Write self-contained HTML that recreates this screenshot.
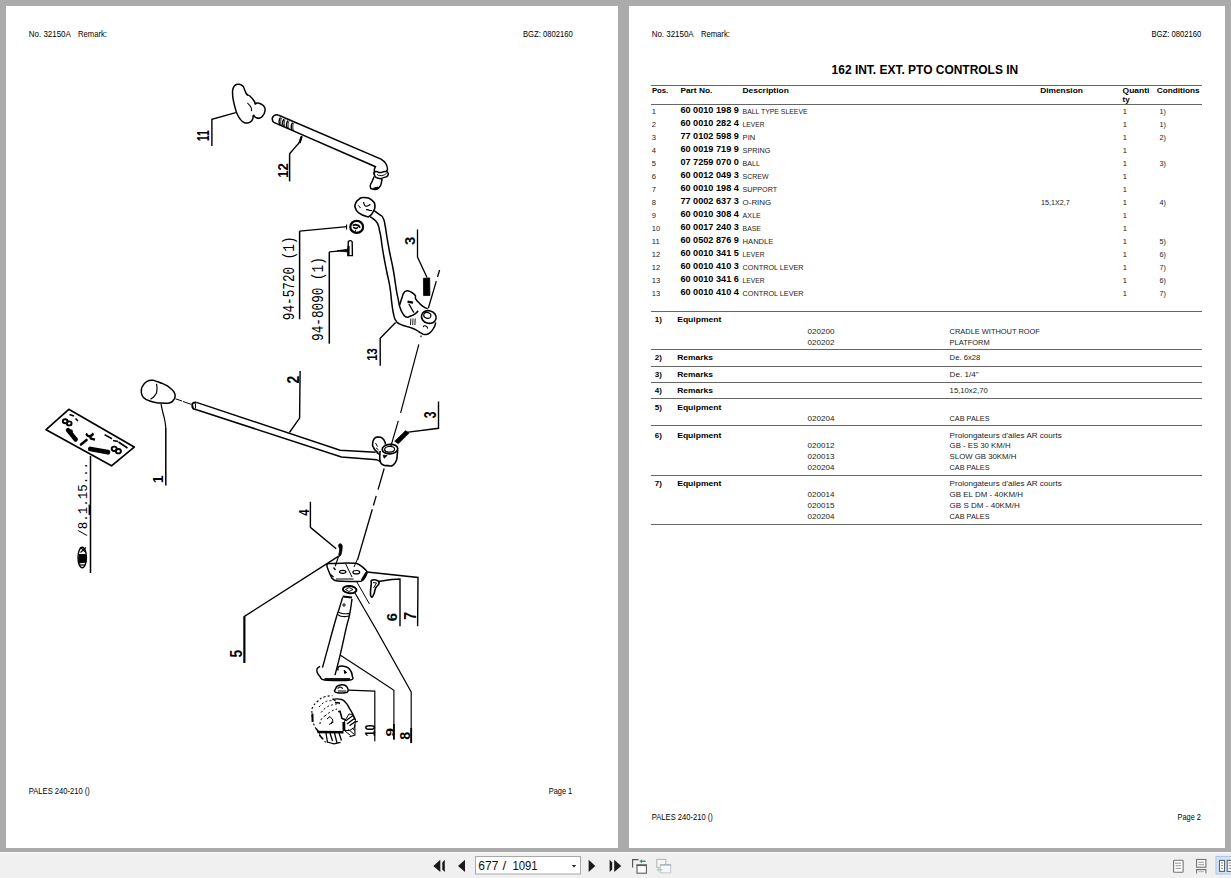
<!DOCTYPE html>
<html><head><meta charset="utf-8"><title>PALES 240-210 - 162 INT. EXT. PTO CONTROLS IN</title>
<style>
html,body{margin:0;padding:0;}
body{width:1231px;height:878px;overflow:hidden;background:#ababab;position:relative;font-family:"Liberation Sans",sans-serif;}
.page{position:absolute;background:#fff;}
#p1{left:6px;top:6px;width:612px;height:842px;}
#p2{left:629px;top:6px;width:596px;height:842px;}
#tb{position:absolute;left:0;top:852px;width:1231px;height:26px;background:#f0f0f0;border-top:1px solid #fbfbfb;box-sizing:border-box;}
svg{position:absolute;left:0;top:0;}
</style></head>
<body>
<div class="page" id="p1"></div>
<div class="page" id="p2"></div>
<div id="tb"></div>
<svg width="1231" height="878" viewBox="0 0 1231 878" font-family="Liberation Sans, sans-serif" font-size="8" fill="#000">
<g stroke="#666" stroke-width="1" shape-rendering="crispEdges"><line x1="651" y1="85.5" x2="1202" y2="85.5"/><line x1="651" y1="104.5" x2="1202" y2="104.5"/><line x1="651" y1="311.5" x2="1202" y2="311.5"/><line x1="651" y1="349.5" x2="1202" y2="349.5"/><line x1="651" y1="366" x2="1202" y2="366"/><line x1="651" y1="382.5" x2="1202" y2="382.5"/><line x1="651" y1="398.5" x2="1202" y2="398.5"/><line x1="651" y1="425.5" x2="1202" y2="425.5"/><line x1="651" y1="475" x2="1202" y2="475"/><line x1="651" y1="524.5" x2="1202" y2="524.5"/></g>
<g><text x="28.8" y="37" font-size="8.4" textLength="42" lengthAdjust="spacingAndGlyphs">No. 32150A</text><text x="78" y="37" font-size="8.4" textLength="29" lengthAdjust="spacingAndGlyphs">Remark:</text><text x="522.9" y="37" font-size="8.4" textLength="49.8" lengthAdjust="spacingAndGlyphs">BGZ: 0802160</text><text x="28.8" y="793.8" font-size="8.4" textLength="61.1" lengthAdjust="spacingAndGlyphs">PALES 240-210 ()</text><text x="548.7" y="794" font-size="8.4" textLength="23.5" lengthAdjust="spacingAndGlyphs">Page 1</text><text x="651.7" y="37" font-size="8.4" textLength="42" lengthAdjust="spacingAndGlyphs">No. 32150A</text><text x="700.9" y="37" font-size="8.4" textLength="29" lengthAdjust="spacingAndGlyphs">Remark:</text><text x="1151.5" y="37" font-size="8.4" textLength="49.8" lengthAdjust="spacingAndGlyphs">BGZ: 0802160</text><text x="651.8" y="820" font-size="8.4" textLength="61.1" lengthAdjust="spacingAndGlyphs">PALES 240-210 ()</text><text x="1177.5" y="820" font-size="8.4" textLength="23.5" lengthAdjust="spacingAndGlyphs">Page 2</text><text x="831.6" y="73.8" font-size="12" font-weight="bold" textLength="186.6" lengthAdjust="spacingAndGlyphs">162 INT. EXT. PTO CONTROLS IN</text><text x="651.9" y="92.8" font-weight="bold" textLength="16.4" lengthAdjust="spacingAndGlyphs">Pos.</text><text x="680.4" y="92.8" font-weight="bold" textLength="32" lengthAdjust="spacingAndGlyphs">Part No.</text><text x="742.5" y="92.8" font-weight="bold" textLength="46.3" lengthAdjust="spacingAndGlyphs">Description</text><text x="1040.2" y="92.8" font-weight="bold" textLength="42.7" lengthAdjust="spacingAndGlyphs">Dimension</text><text x="1122.6" y="92.8" font-weight="bold" textLength="26.8" lengthAdjust="spacingAndGlyphs">Quanti</text><text x="1122.6" y="102.3" font-weight="bold">ty</text><text x="1156.7" y="92.8" font-weight="bold" textLength="43" lengthAdjust="spacingAndGlyphs">Conditions</text><text transform="translate(651.8,113.9) scale(0.95,1)" fill="#222">1</text><text x="680.4" y="113.3" font-size="8.5" font-weight="bold" textLength="58.5" lengthAdjust="spacingAndGlyphs">60 0010 198 9</text><text x="742.6" y="113.9" font-size="7.8" textLength="65.0" lengthAdjust="spacingAndGlyphs" fill="#222">BALL TYPE SLEEVE</text><text transform="translate(1122.8,113.9) scale(0.95,1)" fill="#222">1</text><text transform="translate(1159.4,113.9) scale(0.9,1)" fill="#222">1)</text><text transform="translate(651.8,126.9) scale(0.95,1)" fill="#222">2</text><text x="680.4" y="126.3" font-size="8.5" font-weight="bold" textLength="58.5" lengthAdjust="spacingAndGlyphs">60 0010 282 4</text><text x="742.6" y="126.9" font-size="7.8" textLength="21.9" lengthAdjust="spacingAndGlyphs" fill="#222">LEVER</text><text transform="translate(1122.8,126.9) scale(0.95,1)" fill="#222">1</text><text transform="translate(1159.4,126.9) scale(0.9,1)" fill="#222">1)</text><text transform="translate(651.8,139.9) scale(0.95,1)" fill="#222">3</text><text x="680.4" y="139.3" font-size="8.5" font-weight="bold" textLength="58.5" lengthAdjust="spacingAndGlyphs">77 0102 598 9</text><text x="742.6" y="139.9" font-size="7.8" textLength="12.6" lengthAdjust="spacingAndGlyphs" fill="#222">PIN</text><text transform="translate(1122.8,139.9) scale(0.95,1)" fill="#222">1</text><text transform="translate(1159.4,139.9) scale(0.9,1)" fill="#222">2)</text><text transform="translate(651.8,152.9) scale(0.95,1)" fill="#222">4</text><text x="680.4" y="152.3" font-size="8.5" font-weight="bold" textLength="58.5" lengthAdjust="spacingAndGlyphs">60 0019 719 9</text><text x="742.6" y="152.9" font-size="7.8" textLength="27.7" lengthAdjust="spacingAndGlyphs" fill="#222">SPRING</text><text transform="translate(1122.8,152.9) scale(0.95,1)" fill="#222">1</text><text transform="translate(651.8,165.9) scale(0.95,1)" fill="#222">5</text><text x="680.4" y="165.3" font-size="8.5" font-weight="bold" textLength="58.5" lengthAdjust="spacingAndGlyphs">07 7259 070 0</text><text x="742.6" y="165.9" font-size="7.8" textLength="17.4" lengthAdjust="spacingAndGlyphs" fill="#222">BALL</text><text transform="translate(1122.8,165.9) scale(0.95,1)" fill="#222">1</text><text transform="translate(1159.4,165.9) scale(0.9,1)" fill="#222">3)</text><text transform="translate(651.8,178.9) scale(0.95,1)" fill="#222">6</text><text x="680.4" y="178.3" font-size="8.5" font-weight="bold" textLength="58.5" lengthAdjust="spacingAndGlyphs">60 0012 049 3</text><text x="742.6" y="178.9" font-size="7.8" textLength="26.0" lengthAdjust="spacingAndGlyphs" fill="#222">SCREW</text><text transform="translate(1122.8,178.9) scale(0.95,1)" fill="#222">1</text><text transform="translate(651.8,191.9) scale(0.95,1)" fill="#222">7</text><text x="680.4" y="191.3" font-size="8.5" font-weight="bold" textLength="58.5" lengthAdjust="spacingAndGlyphs">60 0010 198 4</text><text x="742.6" y="191.9" font-size="7.8" textLength="34.5" lengthAdjust="spacingAndGlyphs" fill="#222">SUPPORT</text><text transform="translate(1122.8,191.9) scale(0.95,1)" fill="#222">1</text><text transform="translate(651.8,204.9) scale(0.95,1)" fill="#222">8</text><text x="680.4" y="204.3" font-size="8.5" font-weight="bold" textLength="58.5" lengthAdjust="spacingAndGlyphs">77 0002 637 3</text><text x="742.6" y="204.9" font-size="7.8" textLength="28.599999999999998" lengthAdjust="spacingAndGlyphs" fill="#222">O-RING</text><text transform="translate(1041,204.9) scale(0.9,1)" fill="#222">15,1X2,7</text><text transform="translate(1122.8,204.9) scale(0.95,1)" fill="#222">1</text><text transform="translate(1159.4,204.9) scale(0.9,1)" fill="#222">4)</text><text transform="translate(651.8,217.9) scale(0.95,1)" fill="#222">9</text><text x="680.4" y="217.3" font-size="8.5" font-weight="bold" textLength="58.5" lengthAdjust="spacingAndGlyphs">60 0010 308 4</text><text x="742.6" y="217.9" font-size="7.8" textLength="18.299999999999997" lengthAdjust="spacingAndGlyphs" fill="#222">AXLE</text><text transform="translate(1122.8,217.9) scale(0.95,1)" fill="#222">1</text><text transform="translate(651.8,230.9) scale(0.95,1)" fill="#222">10</text><text x="680.4" y="230.3" font-size="8.5" font-weight="bold" textLength="58.5" lengthAdjust="spacingAndGlyphs">60 0017 240 3</text><text x="742.6" y="230.9" font-size="7.8" textLength="18.299999999999997" lengthAdjust="spacingAndGlyphs" fill="#222">BASE</text><text transform="translate(1122.8,230.9) scale(0.95,1)" fill="#222">1</text><text transform="translate(651.8,243.9) scale(0.95,1)" fill="#222">11</text><text x="680.4" y="243.3" font-size="8.5" font-weight="bold" textLength="58.5" lengthAdjust="spacingAndGlyphs">60 0502 876 9</text><text x="742.6" y="243.9" font-size="7.8" textLength="30.799999999999997" lengthAdjust="spacingAndGlyphs" fill="#222">HANDLE</text><text transform="translate(1122.8,243.9) scale(0.95,1)" fill="#222">1</text><text transform="translate(1159.4,243.9) scale(0.9,1)" fill="#222">5)</text><text transform="translate(651.8,256.9) scale(0.95,1)" fill="#222">12</text><text x="680.4" y="256.3" font-size="8.5" font-weight="bold" textLength="58.5" lengthAdjust="spacingAndGlyphs">60 0010 341 5</text><text x="742.6" y="256.9" font-size="7.8" textLength="21.9" lengthAdjust="spacingAndGlyphs" fill="#222">LEVER</text><text transform="translate(1122.8,256.9) scale(0.95,1)" fill="#222">1</text><text transform="translate(1159.4,256.9) scale(0.9,1)" fill="#222">6)</text><text transform="translate(651.8,269.9) scale(0.95,1)" fill="#222">12</text><text x="680.4" y="269.3" font-size="8.5" font-weight="bold" textLength="58.5" lengthAdjust="spacingAndGlyphs">60 0010 410 3</text><text x="742.6" y="269.9" font-size="7.8" textLength="61.0" lengthAdjust="spacingAndGlyphs" fill="#222">CONTROL LEVER</text><text transform="translate(1122.8,269.9) scale(0.95,1)" fill="#222">1</text><text transform="translate(1159.4,269.9) scale(0.9,1)" fill="#222">7)</text><text transform="translate(651.8,282.9) scale(0.95,1)" fill="#222">13</text><text x="680.4" y="282.3" font-size="8.5" font-weight="bold" textLength="58.5" lengthAdjust="spacingAndGlyphs">60 0010 341 6</text><text x="742.6" y="282.9" font-size="7.8" textLength="21.9" lengthAdjust="spacingAndGlyphs" fill="#222">LEVER</text><text transform="translate(1122.8,282.9) scale(0.95,1)" fill="#222">1</text><text transform="translate(1159.4,282.9) scale(0.9,1)" fill="#222">6)</text><text transform="translate(651.8,295.9) scale(0.95,1)" fill="#222">13</text><text x="680.4" y="295.3" font-size="8.5" font-weight="bold" textLength="58.5" lengthAdjust="spacingAndGlyphs">60 0010 410 4</text><text x="742.6" y="295.9" font-size="7.8" textLength="61.0" lengthAdjust="spacingAndGlyphs" fill="#222">CONTROL LEVER</text><text transform="translate(1122.8,295.9) scale(0.95,1)" fill="#222">1</text><text transform="translate(1159.4,295.9) scale(0.9,1)" fill="#222">7)</text><text x="654.7" y="321.9" font-weight="bold">1)</text><text x="677.2" y="321.9" font-weight="bold" textLength="44.2" lengthAdjust="spacingAndGlyphs">Equipment</text><text x="807.5" y="333.8" textLength="26.9" lengthAdjust="spacingAndGlyphs" fill="#222">020200</text><text x="949.6" y="333.8" textLength="90.30000000000001" lengthAdjust="spacingAndGlyphs" fill="#222">CRADLE WITHOUT ROOF</text><text x="807.5" y="344.7" textLength="26.9" lengthAdjust="spacingAndGlyphs" fill="#222">020202</text><text x="949.6" y="344.7" textLength="40.1" lengthAdjust="spacingAndGlyphs" fill="#222">PLATFORM</text><text x="654.7" y="359.8" font-weight="bold">2)</text><text x="677.2" y="359.8" font-weight="bold" textLength="35.7" lengthAdjust="spacingAndGlyphs">Remarks</text><text x="949.6" y="359.8" textLength="30.7" lengthAdjust="spacingAndGlyphs" fill="#222">De. 6x28</text><text x="654.7" y="376.7" font-weight="bold">3)</text><text x="677.2" y="376.7" font-weight="bold" textLength="35.7" lengthAdjust="spacingAndGlyphs">Remarks</text><text x="949.6" y="376.7" textLength="29.0" lengthAdjust="spacingAndGlyphs" fill="#222">De. 1/4"</text><text x="654.7" y="392.6" font-weight="bold">4)</text><text x="677.2" y="392.6" font-weight="bold" textLength="35.7" lengthAdjust="spacingAndGlyphs">Remarks</text><text x="949.6" y="392.6" textLength="38.1" lengthAdjust="spacingAndGlyphs" fill="#222">15,10x2,70</text><text x="654.7" y="410.4" font-weight="bold">5)</text><text x="677.2" y="410.4" font-weight="bold" textLength="44.2" lengthAdjust="spacingAndGlyphs">Equipment</text><text x="807.5" y="421.0" textLength="26.9" lengthAdjust="spacingAndGlyphs" fill="#222">020204</text><text x="949.6" y="421.0" textLength="39.9" lengthAdjust="spacingAndGlyphs" fill="#222">CAB PALES</text><text x="654.7" y="437.6" font-weight="bold">6)</text><text x="677.2" y="437.6" font-weight="bold" textLength="44.2" lengthAdjust="spacingAndGlyphs">Equipment</text><text x="949.6" y="437.6" textLength="112.2" lengthAdjust="spacingAndGlyphs" fill="#222">Prolongateurs d'ailes AR courts</text><text x="807.5" y="447.8" textLength="26.9" lengthAdjust="spacingAndGlyphs" fill="#222">020012</text><text x="949.6" y="447.8" textLength="60.9" lengthAdjust="spacingAndGlyphs" fill="#222">GB - ES 30 KM/H</text><text x="807.5" y="458.7" textLength="26.9" lengthAdjust="spacingAndGlyphs" fill="#222">020013</text><text x="949.6" y="458.7" textLength="66.80000000000001" lengthAdjust="spacingAndGlyphs" fill="#222">SLOW GB 30KM/H</text><text x="807.5" y="469.7" textLength="26.9" lengthAdjust="spacingAndGlyphs" fill="#222">020204</text><text x="949.6" y="469.7" textLength="39.9" lengthAdjust="spacingAndGlyphs" fill="#222">CAB PALES</text><text x="654.7" y="486.3" font-weight="bold">7)</text><text x="677.2" y="486.3" font-weight="bold" textLength="44.2" lengthAdjust="spacingAndGlyphs">Equipment</text><text x="949.6" y="486.3" textLength="112.2" lengthAdjust="spacingAndGlyphs" fill="#222">Prolongateurs d'ailes AR courts</text><text x="807.5" y="497.0" textLength="26.9" lengthAdjust="spacingAndGlyphs" fill="#222">020014</text><text x="949.6" y="497.0" textLength="73.4" lengthAdjust="spacingAndGlyphs" fill="#222">GB EL DM - 40KM/H</text><text x="807.5" y="507.9" textLength="26.9" lengthAdjust="spacingAndGlyphs" fill="#222">020015</text><text x="949.6" y="507.9" textLength="70.10000000000001" lengthAdjust="spacingAndGlyphs" fill="#222">GB S DM - 40KM/H</text><text x="807.5" y="518.8" textLength="26.9" lengthAdjust="spacingAndGlyphs" fill="#222">020204</text><text x="949.6" y="518.8" textLength="39.9" lengthAdjust="spacingAndGlyphs" fill="#222">CAB PALES</text></g>
<g id="drawing"><path d="M238.5,84.3 C240.5,84.5 240.9,84.4 242.6,85.9 C244.3,87.4 243.6,87.8 244.7,90 C245.8,92.2 245.3,92.4 246.7,94.1 C248.1,95.8 248.1,94.4 250.1,96.2 C252.1,98 252.8,98.9 254.2,101 C255.6,103.1 254.5,103.5 255.2,104 C255.9,104.5 255.5,103 257,103 C258.5,103 259,102.9 261,104 C263,105.1 263.5,105.2 264.5,107.1 C265.5,109 265.3,109 264.9,111.2 C264.5,113.4 264.5,113.5 263.1,115.3 C261.7,117.1 261.7,117.4 259.7,118 C257.7,118.6 257.3,118.1 255.6,117.4 C253.9,116.7 254.2,114.8 253.4,115.3 C252.6,115.8 253.5,117.6 252.6,119.4 C251.7,121.2 251.7,121.2 250.1,122.2 C248.5,123.2 248.5,123.1 246.7,123.1 C244.9,123.1 245.1,123.4 243.3,122.2 C241.5,121 241.5,120.9 239.9,118.7 C238.3,116.5 238.5,116.9 237.2,114 C235.9,111.1 236.1,111.3 235.1,107.8 C234.1,104.3 234.2,104.7 233.5,101 C232.8,97.3 232.7,97.4 232.6,94.1 C232.5,90.8 232.3,91 233,88.7 C233.7,86.4 233.6,86.5 235.1,85.3 C236.6,84.1 236.5,84.1 238.5,84.3 Z" fill="none" stroke="#000" stroke-width="1.5"/>
<path d="M247.4,103 C248.5,104.4 249.4,104.4 250.8,107.1 C252.2,109.8 251.3,109.8 251.5,111.2" fill="none" stroke="#000" stroke-width="1.1"/>
<path d="M246,93.5 L247.6,95.8" fill="none" stroke="#000" stroke-width="1.1"/>
<polyline points="235.8,112.6 211.9,119.4 211.9,146.1" fill="none" stroke="#000" stroke-width="1.4"/>
<text transform="translate(209.10,141.23) rotate(-90) scale(1.052,1.580)" font-family="Liberation Sans" font-weight="bold" font-size="10" fill="#000" xml:space="preserve">11</text>
<path d="M278.7,115.3 L381,159.1 C385,161.5 387.5,165 387.5,169.5 L386.5,171.6" fill="none" stroke="#000" stroke-width="1.5"/>
<path d="M273.2,122.1 L375.5,166.7 L374.4,169 L374.3,175" fill="none" stroke="#000" stroke-width="1.5"/>
<path d="M278.7,115.3 C277.6,115.2 277.3,114.2 275.3,114.9 C273.3,115.6 273.5,115.8 272.6,117.5 C271.7,119.2 272.3,118.5 272.5,120 C272.7,121.5 273,121.4 273.2,122.1" fill="none" stroke="#000" stroke-width="1.6"/>
<path d="M280.5,117.5 C280,118.8 279.2,118.8 279.1,121.4 C279,124.1 279.9,124.2 280.3,125.5" fill="none" stroke="#000" stroke-width="1.4"/>
<path d="M281.7,118.1 C281.4,119.3 280.7,119.1 280.7,121.7 C280.7,124.3 281.4,124.5 281.7,125.9" fill="none" stroke="#000" stroke-width="0.9"/>
<path d="M284,119 C283.5,120.3 282.7,120.3 282.6,122.9 C282.5,125.6 283.4,125.7 283.8,127" fill="none" stroke="#000" stroke-width="1.4"/>
<path d="M285.2,119.6 C284.9,120.8 284.2,120.6 284.2,123.2 C284.2,125.9 284.9,126 285.2,127.4" fill="none" stroke="#000" stroke-width="0.9"/>
<path d="M287.9,120.6 C287.4,121.9 286.6,121.9 286.5,124.6 C286.4,127.3 287.3,127.4 287.7,128.7" fill="none" stroke="#000" stroke-width="1.4"/>
<path d="M289.1,121.2 C288.8,122.4 288.1,122.3 288.1,124.9 C288.1,127.6 288.8,127.7 289.1,129.1" fill="none" stroke="#000" stroke-width="0.9"/>
<path d="M292.6,122.6 C292.1,123.9 291.3,123.9 291.2,126.6 C291.1,129.4 292,129.4 292.4,130.7" fill="none" stroke="#000" stroke-width="1.4"/>
<path d="M293.8,123.2 C293.5,124.4 292.8,124.3 292.8,126.9 C292.8,129.6 293.5,129.7 293.8,131.1" fill="none" stroke="#000" stroke-width="0.9"/>
<path d="M374.3,174.5 C375.1,176.8 375.2,177.3 378.3,178.3 C381.4,179.3 380.3,178.5 383.5,177.6 C386.7,176.7 386.5,177.3 387.8,175.5 C389.1,173.7 388.6,173.6 387.5,172.3 C386.4,171 387,171.5 384.5,171.6 C382,171.7 382.8,172.6 380,172.6 C377.2,172.6 377.9,170.9 376,171.5 C374.1,172.1 373.5,172.2 374.3,174.5 Z" fill="none" stroke="#000" stroke-width="1.5"/>
<path d="M377,174.5 C378.5,174.9 378.3,175.9 381.5,175.6 C384.7,175.3 384.8,174.2 386.5,173.5" fill="none" stroke="#000" stroke-width="1.0"/>
<path d="M374.2,176.5 C373.6,178 373.6,177.7 372.3,181 C371,184.3 369.9,183.8 370.3,186.5 C370.7,189.2 370.6,188.8 373.5,189.2 C376.4,189.6 376.3,190.5 379,187.8 C381.7,185.1 380.9,184.1 381.7,181 C382.5,177.9 381.5,179.4 381.4,178.6" fill="none" stroke="#000" stroke-width="1.5"/>
<path d="M373.5,188.8 L378.5,187.6" fill="none" stroke="#000" stroke-width="2.2"/>
<path d="M301.9,136.1 C301.2,137.9 302.1,137.8 299.8,141.6 C297.5,145.4 298.6,143.2 295.1,147.4 C291.6,151.6 291.2,151.9 289.3,154.2" fill="none" stroke="#000" stroke-width="1.4"/>
<path d="M301.5,136.5 L299.6,143" fill="none" stroke="#000" stroke-width="2.2"/>
<polyline points="289.6,154.2 289.6,181.4" fill="none" stroke="#000" stroke-width="1.5"/>
<text transform="translate(287.80,177.79) rotate(-90) scale(1.317,1.386)" font-family="Liberation Sans" font-weight="bold" font-size="10" fill="#000" xml:space="preserve">12</text>
<path d="M363.9,197.5 C359.8,197.3 361.1,197.7 358.5,199.6 C355.9,201.5 356.3,201.3 355.4,204 C354.5,206.7 354.5,205.7 355.6,208.5 C356.7,211.3 356,210.9 359.1,213.2 C362.2,215.5 362.7,215.6 366,216.3 C369.3,217 367.9,217.2 370.1,215.6 C372.4,214 372.1,214 373.5,211 C374.9,208 375.3,208.9 374.9,205.7 C374.5,202.5 375.4,202.8 372.1,200.3 C368.8,197.8 368,197.7 363.9,197.5 Z" fill="none" stroke="#000" stroke-width="1.6"/>
<path d="M358.5,205.5 L360.5,208" fill="none" stroke="#000" stroke-width="1.0"/>
<path d="M366,209.3 C367.2,209.6 367.5,209.9 369.5,210.3 C371.5,210.7 371.2,210.4 372.1,210.5" fill="none" stroke="#000" stroke-width="1.2"/>
<path d="M363.6,202 C363.9,203 363.5,203.6 364.5,205 C365.5,206.4 364.7,206.3 366.7,206.1 C368.7,205.9 369.2,205 370.4,204.4" fill="none" stroke="#000" stroke-width="1.2"/>
<path d="M370.1,216.7 C371.7,217.9 373,218.2 375.5,220.8 C378,223.4 377.1,222.4 378.3,225.5 C379.5,228.6 378.8,227.3 379.6,231 C380.4,234.7 380.1,232.1 381,237.8 C381.9,243.5 381.1,240.3 382.7,250 C384.3,259.7 384.2,258.9 386.4,270 C388.6,281.1 388.2,276.9 389.9,287 C391.5,297.1 390.7,295.4 391.9,303.8 C393.1,312.2 392.6,310 393.8,315.1 C395,320.2 394.3,318.1 396,320.7 C397.7,323.3 396.3,322.1 399.4,323.8 C402.5,325.5 402.9,325.3 406.3,326.4 C409.7,327.5 407.7,326.5 410.7,327.6 C413.7,328.7 413.1,328.4 416.3,330.1 C419.5,331.8 418.7,331.9 421.3,333.2 C423.9,334.5 422.5,334.7 425.1,334.5 C427.7,334.3 427.5,334.7 430.1,332.6 C432.7,330.5 432.2,330.6 433.9,327.6 C435.6,324.6 435.2,324.1 435.7,322.6" fill="none" stroke="#000" stroke-width="1.5"/>
<path d="M373.5,210.2 C375.3,211.5 376.7,212.3 379.6,214.6 C382.5,216.9 381.5,214.7 383.1,218 C384.8,221.3 384.1,220.6 385.1,225.5 C386.1,230.4 385.3,227.1 386.5,234.4 C387.7,241.8 387.2,239.3 389.2,250 C391.2,260.7 391.4,259.5 393.3,270 C395.2,280.5 394.5,278.1 395.6,285 C396.7,291.9 396.1,289 396.9,293.1 C397.6,297.2 397.4,295 398.1,298.8 C398.9,302.6 399,303.6 399.4,305.7" fill="none" stroke="#000" stroke-width="1.5"/>
<path d="M399.4,305.7 C400.1,303.4 400.7,301.7 401.9,298 C403.1,294.3 402.2,295.6 403.5,293.5 C404.8,291.4 404.1,291.5 406.3,291 C408.5,290.5 408.1,290.6 410.7,291.9 C413.3,293.2 413.6,293.2 415.1,295.3 C416.6,297.4 414.4,296.4 415.7,298.8 C417,301.2 417,300.8 419.4,303.2 C421.8,305.6 421.3,305.2 423.8,306.9 C426.3,308.6 426.5,308.2 427.6,308.8" fill="none" stroke="#000" stroke-width="1.5"/>
<path d="M399.4,305.7 C400.3,307.9 400.4,309.8 402.5,313.2 C404.6,316.6 404.1,316.1 406.3,317 C408.6,317.9 407.4,317.3 410,316.3 C412.6,315.3 412.6,315.5 415.1,313.8 C417.6,312.1 417.3,311.6 418.2,310.7" fill="none" stroke="#000" stroke-width="1.5"/>
<path d="M407.5,301.6 L413,302.6" fill="none" stroke="#000" stroke-width="2.2"/>
<path d="M408.8,303.8 L413.8,312.6" fill="none" stroke="#000" stroke-width="1.3"/>
<ellipse cx="428.8" cy="317" rx="7.4" ry="6.3" fill="none" stroke="#000" stroke-width="1.6" transform="rotate(15 428.8 317)"/>
<ellipse cx="427.3" cy="315.4" rx="3.6" ry="2.8" fill="none" stroke="#000" stroke-width="1.2" transform="rotate(15 427.3 315.4)"/>
<path d="M410.8,318.5 L410.5,325" fill="none" stroke="#000" stroke-width="0.9"/>
<path d="M413,318.5 L412.7,325" fill="none" stroke="#000" stroke-width="0.9"/>
<path d="M415.2,318.5 L414.9,325" fill="none" stroke="#000" stroke-width="0.9"/>
<path d="M423,327 C423.5,326.6 423.3,325.9 424.6,325.8 C425.9,325.7 425.8,325.7 426.8,326.6 C427.8,327.5 427.3,327.9 427.6,328.6" fill="none" stroke="#000" stroke-width="1.1"/>
<polyline points="395.6,322.4 380.2,338.3 380.2,365.7" fill="none" stroke="#000" stroke-width="1.4"/>
<text transform="translate(376.65,360.68) rotate(-90) scale(1.129,1.521)" font-family="Liberation Sans" font-weight="bold" font-size="10" fill="#000" xml:space="preserve">13</text>
<ellipse cx="356.7" cy="226.9" rx="6.4" ry="6" fill="none" stroke="#000" stroke-width="2.2"/>
<path d="M352.6,225.3 L355.5,224.6 L358.6,225.6 L360,227.8" fill="none" stroke="#000" stroke-width="1.8"/>
<path d="M353.2,227.2 L356,228.6 L358,227.4" fill="none" stroke="#000" stroke-width="1.6"/>
<path d="M355,230.8 L356,231" fill="none" stroke="#000" stroke-width="1.4"/>
<polyline points="299.6,231.1 347,226.7" fill="none" stroke="#000" stroke-width="1.3"/>
<path d="M346.6,224.5 L346.6,229.5" fill="none" stroke="#000" stroke-width="1.1"/>
<polyline points="299.6,231.1 299.6,319.3" fill="none" stroke="#000" stroke-width="1.5"/>
<text transform="translate(293.54,320.19) rotate(-90) scale(1.270,1.632)" font-family="Liberation Mono" font-weight="normal" font-size="10" fill="#000" xml:space="preserve">94-5720 (1)</text>
<path d="M348.3,241.5 C349.5,240.2 351.5,240.4 352.2,242 L352.4,255.6 L347.8,255.6 Z" fill="#fff" stroke="#000" stroke-width="1.4"/>
<path d="M348.6,246 L348.6,255" fill="none" stroke="#000" stroke-width="2.0"/>
<path d="M337,250.8 L348,249.2 L348,252 Z" fill="#000" stroke="#000" stroke-width="0.8"/>
<polyline points="329.3,251.9 346,250.4" fill="none" stroke="#000" stroke-width="1.3"/>
<polyline points="329.3,251.9 329.3,343.7" fill="none" stroke="#000" stroke-width="1.5"/>
<text transform="translate(323.14,340.89) rotate(-90) scale(1.269,1.632)" font-family="Liberation Mono" font-weight="normal" font-size="10" fill="#000" xml:space="preserve">94-8090 (1)</text>
<path d="M423.4,278.3 L429.7,277.9 L429.9,295.4 L423.6,295.6 Z" fill="#000" stroke="#000" stroke-width="0.8"/>
<path d="M428,281.2 L428.1,286.5" fill="none" stroke="#000" stroke-width="1.2" stroke="#bbb"/>
<path d="M425.2,294.2 L427.5,294.2" fill="none" stroke="#000" stroke-width="1.0" stroke="#ddd"/>
<polyline points="427,277.5 417.5,257 417.5,229.6" fill="none" stroke="#000" stroke-width="1.3"/>
<text transform="translate(414.55,245.00) rotate(-90) scale(1.500,1.535)" font-family="Liberation Sans" font-weight="bold" font-size="10" fill="#000" xml:space="preserve">3</text>
<path d="M439.6,270 L428.3,308.3" fill="none" stroke="#000" stroke-width="1.3" stroke-dasharray="7.3 4.3 30"/>
<path d="M421.2,335.5 L400.5,413.3 L390.9,446.1" fill="none" stroke="#000" stroke-width="1.2" stroke-dasharray="1.6 7.5 71 8.3 27"/>
<path d="M152.8,380.3 C150.2,380.4 150,379.9 147.1,381.4 C144.2,382.9 144.8,382.8 143.1,385.4 C141.4,387.9 141.7,387 141.4,389.9 C141.1,392.8 141,392.5 142,395.1 C143,397.7 142.6,396.8 144.8,398.5 C147,400.2 146.2,399.6 149.4,400.8 C152.6,402 152,401.8 155.6,402.5 C159.2,403.2 157.2,402.9 161.3,403 C165.4,403.1 165.7,403.8 169.3,403 C172.9,402.2 171.6,402.1 173.3,400.2 C175,398.3 174.7,399 175,396.8 C175.3,394.6 175.6,395.2 174.4,392.8 C173.2,390.4 173.7,391.2 171,388.8 C168.3,386.4 168.7,386.7 165.3,384.8 C161.9,382.9 162.5,383.6 159.6,382.5 C156.7,381.4 157.6,381.8 155.6,381.1 C153.6,380.4 155.4,380.2 152.8,380.3 Z" fill="none" stroke="#000" stroke-width="1.5"/>
<path d="M156.5,383.7 C156.6,385.8 157.4,386.1 156.9,389.9 C156.4,393.7 157.2,392 155.1,395.1 C153,398.2 152,397.8 150.5,399.2" fill="none" stroke="#000" stroke-width="1.2"/>
<path d="M175.5,398.8 L182,401 M183,401.5 L191,404.3" fill="none" stroke="#000" stroke-width="1.0"/>
<path d="M161,403.6 C161.5,406.1 161.3,405.5 162.5,411 C163.7,416.5 163.6,414.3 164.7,420 C165.8,425.7 165.4,425.3 165.8,428" fill="none" stroke="#000" stroke-width="1.2"/>
<polyline points="165.8,428 165.8,485.5" fill="none" stroke="#000" stroke-width="1.5"/>
<text transform="translate(162.90,483.36) rotate(-90) scale(1.426,1.507)" font-family="Liberation Sans" font-weight="bold" font-size="10" fill="#000" xml:space="preserve">1</text>
<path d="M196.4,402.4 L340.1,450.2 L375.6,452.2" fill="none" stroke="#000" stroke-width="1.5"/>
<path d="M195,409.2 L341.4,457 L377,459.7" fill="none" stroke="#000" stroke-width="1.5"/>
<path d="M196.4,402.4 C195.3,402.6 194.6,402 193.2,403 C191.8,404 192.3,403.7 192.3,405.5 C192.3,407.3 192.3,407.3 193.2,408.5 C194.1,409.7 194.4,409 195,409.2" fill="none" stroke="#000" stroke-width="2.0"/>
<path d="M195.5,403.5 L195.5,408.5" fill="none" stroke="#000" stroke-width="1.1"/>
<polyline points="289.4,432.5 299.6,418.1 300.1,371" fill="none" stroke="#000" stroke-width="1.4"/>
<text transform="translate(299.00,383.62) rotate(-90) scale(1.388,1.671)" font-family="Liberation Sans" font-weight="bold" font-size="10" fill="#000" xml:space="preserve">2</text>
<path d="M378.3,452.7 C377.5,452.1 377.1,452.1 375.7,450.6 C374.3,449.1 374.5,449.6 373.6,447.6 C372.7,445.6 372.4,446.6 372.6,444 C372.8,441.4 372.5,440.9 374.2,438.8 C375.9,436.7 375.8,437.2 378.3,437.1 C380.8,437 380.4,436.9 382.4,438.3 C384.4,439.7 384,440 384.9,441.9 C385.8,443.8 385.2,443.7 385.4,444.5" fill="none" stroke="#000" stroke-width="1.6"/>
<path d="M375.5,443 L377.5,446.5 M376,447.8 L378.5,450" fill="none" stroke="#000" stroke-width="1.0"/>
<ellipse cx="390" cy="449.1" rx="7.8" ry="4.8" fill="none" stroke="#000" stroke-width="1.7" transform="rotate(-4 390 449.1)"/>
<ellipse cx="389.6" cy="449.3" rx="5" ry="2.9" fill="none" stroke="#000" stroke-width="1.3" transform="rotate(-4 389.6 449.3)"/>
<path d="M380.2,451 C380.1,452.1 379.8,452.1 379.8,455 C379.8,457.9 379.3,459.2 380.3,461.9 C381.3,464.6 381.3,464 383.4,465 C385.5,466 385.5,465.5 388,465.6 C390.5,465.7 390.4,466.8 392.6,465.5 C394.8,464.2 395,463.7 396.2,460.9 C397.4,458.1 396.8,457.9 397.2,455 C397.6,452.1 397.5,451.3 397.6,450" fill="none" stroke="#000" stroke-width="1.6"/>
<path d="M383.2,455.2 L387.2,455.4 L384.2,458.2 Z" fill="#000" stroke="#000" stroke-width="0.8"/>
<path d="M376.5,452.5 L380.2,455 M377,459.8 L380.3,461.5" fill="none" stroke="#000" stroke-width="1.4"/>
<path d="M394.6,441.2 L405.6,430.6 L409,433.2 L398.4,443.8 Z" fill="#000" stroke="#000" stroke-width="0.6"/>
<path d="M398.4,440.2 L405.5,433.4" fill="none" stroke="#000" stroke-width="0.9" stroke="#bbb"/>
<polyline points="406.4,432.4 438.5,428.3 438.5,401.6" fill="none" stroke="#000" stroke-width="1.4"/>
<text transform="translate(436.34,418.24) rotate(-90) scale(1.220,1.648)" font-family="Liberation Sans" font-weight="bold" font-size="10" fill="#000" xml:space="preserve">3</text>
<path d="M384.2,468.5 L357.5,560" fill="none" stroke="#000" stroke-width="1.3" stroke-dasharray="22 6.5 10 4 60"/>
<path d="M68.8,409.3 L46.1,429.7 L111.5,465.8 L134.2,447.1 Z" fill="none" stroke="#000" stroke-width="1.7" stroke-linejoin="round"/>
<ellipse cx="65.2" cy="421.2" rx="2.4" ry="2" fill="none" stroke="#000" stroke-width="1.9"/>
<ellipse cx="69.2" cy="423.4" rx="2.4" ry="2" fill="none" stroke="#000" stroke-width="1.9"/>
<ellipse cx="114.2" cy="448.8" rx="2.5" ry="2.2" fill="none" stroke="#000" stroke-width="1.9"/>
<ellipse cx="118.4" cy="451.2" rx="2.5" ry="2.2" fill="none" stroke="#000" stroke-width="1.9"/>
<ellipse cx="70.5" cy="431.5" rx="2.2" ry="2" fill="#000" stroke="#000" stroke-width="0.5"/>
<path d="M68,430.2 L75.7,439.5" fill="none" stroke="#000" stroke-width="4.4" stroke-linecap="round"/>
<path d="M90.4,449 L107.8,452.2" fill="none" stroke="#000" stroke-width="4.8" stroke-linecap="round"/>
<path d="M81,444.5 L86.5,440" fill="none" stroke="#000" stroke-width="2.6" stroke-linecap="round"/>
<path d="M86,433.8 C87.2,434.6 87,436.3 89.5,436.2 C92,436.1 92.2,434.5 93.5,433.6" fill="none" stroke="#000" stroke-width="2.4"/>
<path d="M90,435.5 L90.8,438.6 L95,439.6" fill="none" stroke="#000" stroke-width="2.2"/>
<path d="M104.6,434.6 L112,438.8 M113,440.5 L118,441.5 M118.5,442 L127.5,448" fill="none" stroke="#000" stroke-width="1.6"/>
<path d="M69.5,414.5 L74,416 M75.5,418.5 L78,421" fill="none" stroke="#000" stroke-width="1.6"/>
<polyline points="90.5,455.8 90.5,573" fill="none" stroke="#000" stroke-width="1.5"/>
<path d="M89.8,504.6 L89.8,515" fill="none" stroke="#000" stroke-width="2.4"/>
<text transform="translate(87.27,536.65) rotate(-90) scale(1.247,1.309)" font-family="Liberation Mono" font-weight="normal" font-size="10" fill="#000" xml:space="preserve">/8.1.15...</text>
<ellipse cx="82.2" cy="557.5" rx="4.2" ry="10.2" fill="none" stroke="#000" stroke-width="1.4"/>
<path d="M79,554.5 L85.5,554.5 L86,562 L79,563 Z" fill="#000" stroke="#000" stroke-width="1.0"/>
<ellipse cx="82.2" cy="558.5" rx="3.2" ry="3.6" fill="#000" stroke="#000" stroke-width="0"/>
<path d="M80.5,547.5 L86,552.5 M86,547.5 L80.5,552.5" fill="none" stroke="#000" stroke-width="1.1"/>
<path d="M80,565 L85,565" fill="none" stroke="#000" stroke-width="1.2" stroke="#fff"/>
<path d="M338.7,545 C339.2,543.5 340.7,543.2 341.6,544.4 C342.5,545.6 342.3,546.6 342,549.5 C341.7,552.4 341.5,553.6 340.6,555.2 C339.7,556.8 339.1,556.8 338.8,555.4 C338.5,554 339.6,552.8 339.6,550 C339.6,547.2 338.2,546.5 338.7,545 Z" fill="#000" stroke="#000" stroke-width="0.8"/>
<polyline points="310.4,501.8 310.4,527.4 336.2,548.8" fill="none" stroke="#000" stroke-width="1.4"/>
<text transform="translate(308.70,515.73) rotate(-90) scale(1.132,1.478)" font-family="Liberation Sans" font-weight="bold" font-size="10" fill="#000" xml:space="preserve">4</text>
<path d="M338.6,556.2 L335.2,566.3" fill="none" stroke="#000" stroke-width="1.1"/>
<polyline points="338.3,556.4 244.4,616.4 244.4,662.9" fill="none" stroke="#000" stroke-width="1.4"/>
<path d="M244.4,616.4 L244.4,662.9" fill="none" stroke="#000" stroke-width="2.0"/>
<text transform="translate(241.74,657.41) rotate(-90) scale(1.380,1.571)" font-family="Liberation Sans" font-weight="bold" font-size="10" fill="#000" xml:space="preserve">5</text>
<path d="M328.8,563.5 C331.3,563.2 353.5,562.8 356.7,563.5 C359.9,564.2 366.6,570.4 367,571.9 C367.4,573.4 364,580.3 361.5,581.1 C359,581.9 340,581.3 337.5,581.1 C335,580.9 332.9,579.5 332,578.3 C331.1,577.1 327.5,568.3 327.2,567.1 C326.9,565.9 326.3,563.8 328.8,563.5 Z" fill="none" stroke="#000" stroke-width="1.5"/>
<path d="M336,579 L353.5,579" fill="none" stroke="#000" stroke-width="1.0"/>
<path d="M361.8,580.5 L366.5,572.5" fill="none" stroke="#000" stroke-width="2.4"/>
<ellipse cx="342.7" cy="571.8" rx="3.2" ry="1.5" fill="none" stroke="#000" stroke-width="1.2"/>
<ellipse cx="356.3" cy="572.2" rx="3.4" ry="1.7" fill="none" stroke="#000" stroke-width="1.2"/>
<path d="M333.5,567.5 L335.5,570 M330.5,574.5 L333.5,577" fill="none" stroke="#000" stroke-width="1.3"/>
<path d="M345.5,563.5 L352,577" fill="none" stroke="#000" stroke-width="1.0"/>
<polyline points="367,572 418,577.5 417.6,626.2" fill="none" stroke="#000" stroke-width="1.4"/>
<text transform="translate(415.76,619.98) rotate(-90) scale(1.447,1.588)" font-family="Liberation Sans" font-weight="bold" font-size="10" fill="#000" xml:space="preserve">7</text>
<path d="M371.7,580.3 C373,579.7 376.3,580 377.7,580.7 C379.1,581.4 379.3,582.5 378.9,583.9 C378.5,585.3 376.7,586 375.7,587.9 C374.7,589.8 374.8,591.7 374.1,593.5 C373.4,595.3 372.8,596.8 372.1,597.1 C371.4,597.4 370.9,596.5 370.6,595.1 C370.3,593.7 370.5,592.5 370.6,590.3 C370.7,588.1 371.1,585.9 371.3,583.9 C371.5,581.9 370.4,580.9 371.7,580.3 Z" fill="none" stroke="#000" stroke-width="1.6"/>
<path d="M373,582.5 L376.5,583 L373.5,588" fill="none" stroke="#000" stroke-width="1.0"/>
<polyline points="378.1,581.5 391.7,579.5 400,579.1 400,626.2" fill="none" stroke="#000" stroke-width="1.4"/>
<text transform="translate(396.76,621.20) rotate(-90) scale(1.500,1.408)" font-family="Liberation Sans" font-weight="bold" font-size="10" fill="#000" xml:space="preserve">6</text>
<path d="M356.6,581.5 L369.4,603.9" fill="none" stroke="#000" stroke-width="1.0"/>
<path d="M357.5,559 L354,567" fill="none" stroke="#000" stroke-width="1.0"/>
<ellipse cx="349.7" cy="589.6" rx="6.8" ry="3.6" fill="none" stroke="#000" stroke-width="2.0" transform="rotate(5 349.7 589.6)"/>
<path d="M345.5,589.5 L349,587.5 L353,589.5 L349,591.5 Z" fill="none" stroke="#000" stroke-width="0.9"/>
<polyline points="355,593 375.7,628.6 411.2,692 411.2,743.1" fill="none" stroke="#000" stroke-width="1.15"/>
<path d="M411.2,728 L411.2,743.1" fill="none" stroke="#000" stroke-width="1.8"/>
<text transform="translate(410.15,739.83) rotate(-90) scale(1.440,1.535)" font-family="Liberation Sans" font-weight="bold" font-size="10" fill="#000" xml:space="preserve">8</text>
<path d="M342.6,597.5 C341.3,601.7 340.9,603.3 338.8,610 C336.7,616.7 339.2,607.5 336.3,617.5 C333.4,627.5 334.6,623.4 330,640.1 C325.4,656.8 325,658.4 322.5,667.6" fill="none" stroke="#000" stroke-width="1.4"/>
<path d="M352,598.8 C351.2,604.2 351.4,605.4 349.5,615 C347.6,624.6 349.4,614.2 346.3,627.6 C343.2,641 343.9,639.3 340.1,655.1 C336.3,670.9 336.7,668.4 335,675.1" fill="none" stroke="#000" stroke-width="1.4"/>
<path d="M342.6,596.6 L352,597.6" fill="none" stroke="#000" stroke-width="2.0"/>
<path d="M338.6,612.3 C340.2,612.8 339.8,613.3 343.5,613.7 C347.2,614.1 347.7,613.5 349.8,613.4" fill="none" stroke="#000" stroke-width="1.1"/>
<path d="M338,614.8 C339.7,615.4 339.3,616.1 343,616.5 C346.7,616.9 347.1,616.2 349.2,616" fill="none" stroke="#000" stroke-width="1.1"/>
<ellipse cx="344" cy="605" rx="1.1" ry="1.3" fill="none" stroke="#000" stroke-width="1.0"/>
<path d="M320,666.4 C319.5,666.8 317.7,667.5 317.2,668.5 C316.7,669.5 316.7,671.3 317.2,672.6 C317.7,673.9 318.8,675.3 320,676.5 C321.2,677.7 319.6,679.4 324.6,680 C329.7,680.6 345.7,680.7 350.3,680 C354.9,679.3 352.2,677.2 352.2,675.6 C352.2,674 351.4,671.9 350.5,670.5 C349.6,669.1 348.4,667.6 346.5,667 C344.6,666.4 340.2,666 338.8,666.6 C337.4,667.2 338,669.9 337.8,670.5" fill="none" stroke="#000" stroke-width="1.5"/>
<path d="M324.6,679 L350,679" fill="none" stroke="#000" stroke-width="1.8"/>
<path d="M344.2,670 L346.6,672.6 L344.6,673.4 Z" fill="#000" stroke="#000" stroke-width="1.0"/>
<polyline points="340.1,655.1 375,677.7 393.9,690.2 393.9,739.4" fill="none" stroke="#000" stroke-width="1.15"/>
<path d="M393.9,724 L393.9,739.4" fill="none" stroke="#000" stroke-width="1.8"/>
<text transform="translate(393.78,736.41) rotate(-90) scale(1.521,1.155)" font-family="Liberation Sans" font-weight="bold" font-size="10" fill="#000" xml:space="preserve">9</text>
<path d="M335.5,689 C336,688 336,687.2 337,686.4 C338,685.6 338.9,685.2 340.5,685 C342.1,684.8 343.6,684.7 345,685.3 C346.4,685.9 347,686.7 347.6,688 C348.2,689.3 348.3,690.6 347.8,691.6 C347.3,692.6 347.1,692.6 345,692.8 C342.9,693 339.6,693.1 337.5,692.8 C335.4,692.5 335,692.3 334.6,691.5 C334.2,690.7 335,690 335.5,689 Z" fill="none" stroke="#000" stroke-width="1.5"/>
<path d="M337.5,688.5 L340,686.8 L343,688.5 M338,691 L346,691" fill="none" stroke="#000" stroke-width="1.1"/>
<polyline points="348.2,690.2 374.8,691.1 374.8,741.3" fill="none" stroke="#000" stroke-width="1.2"/>
<text transform="translate(374.66,736.45) rotate(-90) scale(1.079,1.423)" font-family="Liberation Sans" font-weight="bold" font-size="10" fill="#000" xml:space="preserve">10</text>
<path d="M326,742.4 C325.1,741.4 325.4,742.5 322.9,739.2 C320.4,735.9 320.7,736.5 317.8,731.5 C314.9,726.5 315,728.1 313.3,722.6 C311.6,717.1 312.2,717.6 312,713 C311.8,708.4 310.9,710.9 312.7,707.3 C314.5,703.7 314.6,704.1 318,701 C321.4,697.9 319.8,698.7 324.1,697.1 C328.4,695.5 329.9,696.1 332.4,695.6" fill="none" stroke="#000" stroke-width="1.1" stroke-dasharray="2 2.2"/>
<path d="M312.4,713.5 L312.6,722" fill="none" stroke="#000" stroke-width="2.0"/>
<path d="M332.4,699.3 C334.9,699.3 336.7,698.2 340.7,699.3 C344.7,700.3 343.1,700 345.8,702.8 C348.5,705.6 347.3,704.8 349.6,708.6 C351.9,712.4 351.8,712.1 353.5,715.6 C355.2,719.1 354.8,718.8 355.4,720.1" fill="none" stroke="#000" stroke-width="1.4"/>
<path d="M319,707 C320.8,705.5 321.1,703.9 325,702 C328.9,700.1 328.4,700.9 332,700.6 C335.6,700.3 335.5,700.9 337,701" fill="none" stroke="#000" stroke-width="1.0" stroke-dasharray="2 2.2"/>
<path d="M321,712.5 C322.8,710.9 323.1,709.4 327,707 C330.9,704.6 330.1,705.5 334,704.5 C337.9,703.5 338.2,703.9 340,703.6" fill="none" stroke="#000" stroke-width="1.0" stroke-dasharray="2 2.2"/>
<path d="M325,716 C326.8,714.6 327.4,713.6 331,711.5 C334.6,709.4 335.2,709.8 337,709" fill="none" stroke="#000" stroke-width="1.0" stroke-dasharray="2 2.2"/>
<path d="M320,724 C320.4,722.5 319.4,721.9 321.5,719 C323.6,716.1 325.4,715.9 327,714.5" fill="none" stroke="#000" stroke-width="1.0" stroke-dasharray="2 2.2"/>
<path d="M335,702.5 L340,703" fill="none" stroke="#000" stroke-width="1.6"/>
<path d="M338.2,711.8 L340,711.3 L342,718.5 L345.8,720" fill="none" stroke="#000" stroke-width="1.6"/>
<path d="M327,719 L330,716.5 L333,720 L331,724 M329,724.5 L333.5,722" fill="none" stroke="#000" stroke-width="1.0"/>
<path d="M344,722 L349,714 L352.5,714.5 L355.5,720.5 L354.5,727.5 L349.5,730.5 L344,730.5 Z" fill="none" stroke="#000" stroke-width="1.0"/>
<path d="M345.5,721 L353,715.5 M347,724 L355,718 M349.5,725.8 L355.4,721.5" fill="none" stroke="#000" stroke-width="1.3"/>
<path d="M343.8,722 L344,731" fill="none" stroke="#000" stroke-width="2.8"/>
<path d="M317.5,732 L343.5,732.3" fill="none" stroke="#000" stroke-width="2.6"/>
<path d="M326,733 L327.5,742.5 M330,733 L332.5,741 M334.5,733 L337,743 M339,733 L341.5,740.5" fill="none" stroke="#000" stroke-width="1.3"/>
<path d="M327.2,742 L334,743.8 L340.5,742.4" fill="none" stroke="#000" stroke-width="1.2"/>
<path d="M345,731 L350.5,735.5 M348.5,729.5 L354.5,734.5 M352,728 L355,730.5" fill="none" stroke="#000" stroke-width="1.0"/>
<path d="M354.8,724.5 L355,735.2 L349.6,736.6" fill="none" stroke="#000" stroke-width="1.1"/>
<path d="M316,728.5 L320,733.5 M319.3,735 L322.8,739" fill="none" stroke="#000" stroke-width="1.5"/>
<path d="M355.5,721.8 L357.8,721.4" fill="none" stroke="#000" stroke-width="1.2"/></g>
<g id="toolbar"><g fill="#1a1a1a">
<path d="M433.3,866 L440.3,859.8 L440.3,872 Z"/>
<path d="M444.8,859.8 L442.3,862.5 L442.3,869.5 L444.8,872 Z"/>
<path d="M458,866 L465,859.8 L465,872 Z"/>
<path d="M595.3,866 L588.6,859.8 L588.6,872 Z"/>
<path d="M609.6,859.8 L612.2,862.5 L612.2,869.5 L609.6,872 Z"/>
<path d="M621.2,866 L614.2,859.8 L614.2,872 Z"/>
</g>
<rect x="475.5" y="856.5" width="105" height="17.5" fill="#fff" stroke="#a8a8a8" stroke-width="1"/>
<g font-size="13.4" fill="#111"><text x="478.3" y="869.7" textLength="20" lengthAdjust="spacingAndGlyphs">677</text><text x="502.4" y="869.7">/</text><text x="512.4" y="869.7" textLength="25.2" lengthAdjust="spacingAndGlyphs">1091</text></g>
<path d="M571.8,865 L576.2,865 L574,867.4 Z" fill="#222"/>
<!-- window icon A -->
<path d="M632.6,867.6 V859.6 H638.5" fill="none" stroke="#4a5262" stroke-width="1.1"/>
<rect x="637" y="865" width="9.4" height="8.2" fill="#fff" stroke="#5e5e5e" stroke-width="1.1"/>
<rect x="636.5" y="864.5" width="10.4" height="1.6" fill="#5e5e5e"/>
<path d="M639.4,861.3 L642,859.3 L642,860.6 L645.6,860.6 L645.6,862 L642,862 L642,863.3 Z" fill="#3f8f6a"/>
<!-- window icon B (disabled) -->
<rect x="656.8" y="859.4" width="9" height="8" fill="#f6f6f6" stroke="#b4b4b4" stroke-width="1"/>
<rect x="660.3" y="864.6" width="10.4" height="8.3" fill="#f8f8f8" stroke="#c0c4cc" stroke-width="1"/>
<rect x="660.3" y="864.2" width="10.4" height="1.4" fill="#a9b0c0"/>
<path d="M656.5,869.8 L659,868 L659,869.2 L662.5,869.2 L662.5,870.6 L659,870.6 L659,871.8 Z" fill="#a6cdb6"/>
<!-- single page -->
<rect x="1173.6" y="860.3" width="9.5" height="12" rx="0.8" fill="#fff" stroke="#727272" stroke-width="1.1"/>
<g stroke="#8a8a8a" stroke-width="0.9"><line x1="1174.9" y1="863.2" x2="1181" y2="863.2"/><line x1="1175.5" y1="865.7" x2="1181" y2="865.7"/><line x1="1175.5" y1="868.4" x2="1181" y2="868.4"/></g>
<!-- continuous -->
<rect x="1196.6" y="859.5" width="9.3" height="7.7" fill="#fff" stroke="#727272" stroke-width="1.1"/>
<g stroke="#8a8a8a" stroke-width="0.9"><line x1="1198.3" y1="862.3" x2="1204" y2="862.3"/><line x1="1198.3" y1="864.7" x2="1204" y2="864.7"/></g>
<path d="M1196.6,873.5 V869.6 H1205.9 V873.5" fill="#fff" stroke="#727272" stroke-width="1.1"/>
<line x1="1198.3" y1="871.8" x2="1204" y2="871.8" stroke="#9a9a9a" stroke-width="0.9"/>
<!-- facing (selected) -->
<rect x="1216" y="856.4" width="16" height="17.6" fill="#d4e3f6" stroke="#aac3e6" stroke-width="1"/>
<rect x="1219.5" y="860.4" width="5" height="11" fill="#fff" stroke="#5a6470" stroke-width="1.1"/>
<rect x="1227.2" y="860.4" width="5" height="11" fill="#fff" stroke="#5a6470" stroke-width="1.1"/>
<g stroke="#7a8088" stroke-width="0.9"><line x1="1221" y1="863" x2="1223" y2="863"/><line x1="1221" y1="865.6" x2="1223" y2="865.6"/><line x1="1221" y1="868.4" x2="1223" y2="868.4"/><line x1="1228.6" y1="863" x2="1231" y2="863"/><line x1="1228.6" y1="865.6" x2="1231" y2="865.6"/><line x1="1228.6" y1="868.4" x2="1231" y2="868.4"/></g>
</g>
</svg>
</body></html>
